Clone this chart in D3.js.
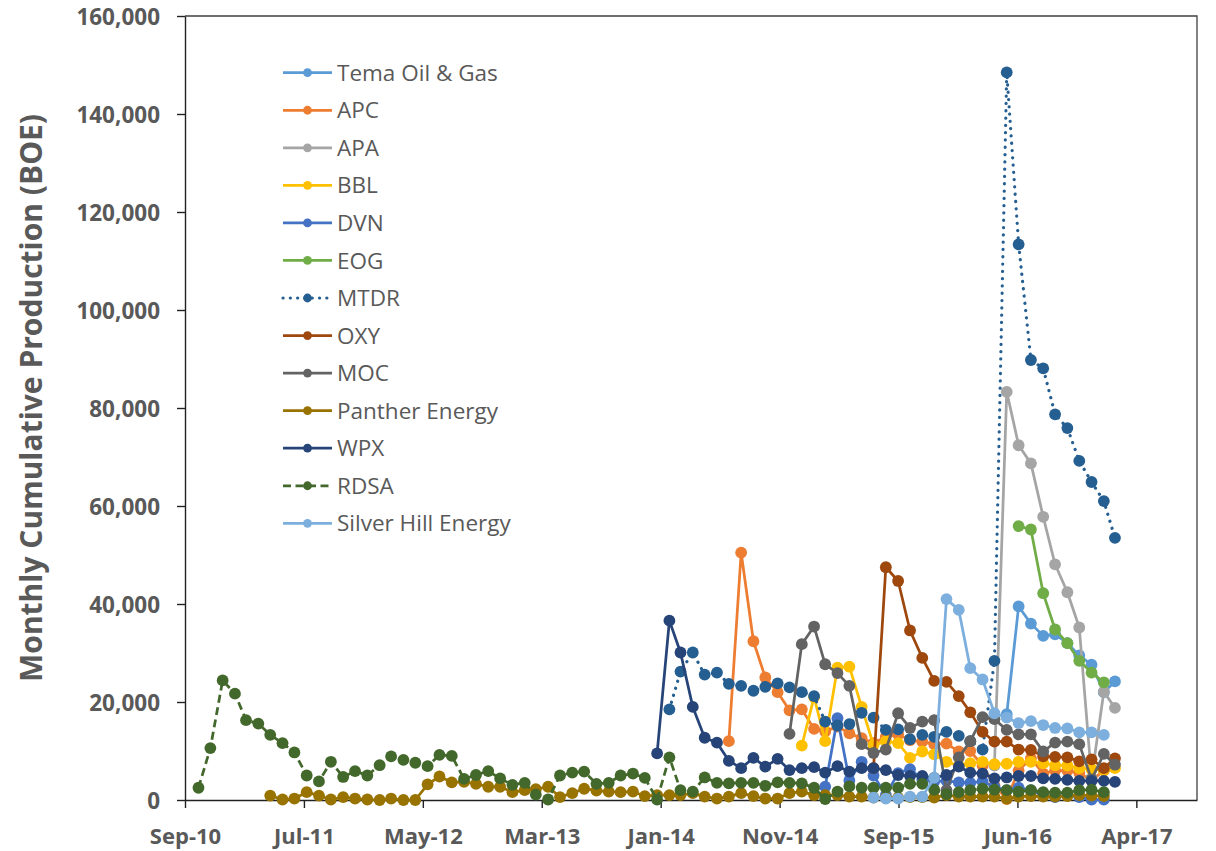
<!DOCTYPE html>
<html><head><meta charset="utf-8">
<script src="https://cdn.jsdelivr.net/npm/d3@7"></script>
<style>body{margin:0;background:#fff} svg{display:block}</style>
</head><body><svg id="chart" width="1216" height="851"></svg>
<script>
// ---------- DATA ----------
const seriesNames = ["Tema Oil & Gas","APC","APA","BBL","DVN","EOG","MTDR","OXY","MOC","Panther Energy","WPX","RDSA","Silver Hill Energy"];
const seriesColors = ["#5B9BD5","#ED7D31","#A5A5A5","#FFC000","#4472C4","#70AD47","#255E91","#9E480E","#636363","#997300","#264478","#43682B","#7CAFDD"];
const seriesStyles = ["solid","solid","solid","solid","solid","solid","dot","solid","solid","solid","solid","dash","solid"];
const startMonths = ["2016-06","2014-07","2016-05","2015-01","2015-03","2016-07","2014-02","2015-07","2014-12","2011-05","2014-01","2010-11","2015-07"];

const temaOilGas = [17500,39500,36000,33500,33800,32000,29500,27600,22000,24200];
const apc = [12000,50500,32400,25000,22000,18300,18500,14500,14000,15000,13600,12600,11600,12900,13400,12200,11900,11400,11500,9900,10000,7000,3000,200,6000,8500,5400,6000,6000,5500,4000,6000];
const apa = [7000,83300,72400,68700,57800,48100,42400,35200,4500,22100,18800];
const bbl = [11100,21000,12000,27000,27200,19000,11200,12000,11600,8600,9900,9300,7800,7000,7500,7800,7300,7400,7800,7800,7500,7100,7000,6500,6300,6100,6500];
const dvn = [2700,16700,4000,7800,5000,1000,5500,6300,4200,3800,3900,3600,3500,3800,2700,2000,2500,2000,1000,600,1000,600,100,100];
const eog = [55900,55200,42200,34800,32000,28400,26000,24000];
const mtdr = [18500,26200,30100,25600,26000,23700,23300,22300,23100,23800,23000,22000,21200,16000,15200,15500,17800,16800,14300,14400,12400,13300,12900,13900,13100,12000,10300,28400,148500,113400,89800,88100,78700,75900,69200,64900,61000,53500];
const oxy = [6500,47500,44700,34600,29000,24300,24100,21200,17900,13900,11900,11900,10300,10200,8900,8800,8700,7900,8300,6500,8500];
const moc = [13500,31800,35400,27700,25900,23300,11400,9600,10300,17700,14700,16000,16300,2000,8700,12000,16900,16500,14300,13400,13400,9900,11700,11900,11400,4200,9400,7200];
const pantherEnergy = [900,100,300,1600,900,100,600,300,100,0,300,0,0,3200,4800,3600,3700,3300,2700,2700,1600,2000,2200,2700,600,1400,2300,1900,1700,1600,1700,800,1000,1000,1000,1400,700,300,700,1400,800,300,300,1400,1700,1000,1000,1000,700,700,500,500,500,600,600,500,1000,700,700,700,700,300,700,800,700,700,800,1000,900,800];
const wpx = [9500,36600,30100,19000,12700,11700,8000,6500,8600,6800,8400,6100,6500,6700,5600,6900,5800,6500,6500,6100,5100,4900,4900,4500,5100,6800,5600,5400,4400,4600,4900,4900,4400,4300,4100,3900,3900,3900,3700];
const rdsa = [2500,10600,24400,21700,16300,15600,13300,11600,9700,5000,3800,7800,4700,5900,5000,7100,8900,8200,7600,6900,9200,9000,4300,5100,5900,4400,3100,3500,1100,100,5000,5600,5800,3300,3500,5000,5400,4500,100,8700,2000,1700,4600,3500,3400,3500,3500,2900,3600,3500,3400,2500,200,1700,2800,2500,2500,2500,2500,3300,3300,2100,1200,1600,2000,2300,2100,2000,1700,2000,1600,1500,1500,2000,2100,1600];
const silverHillEnergy = [500,300,300,700,700,4500,41000,38800,26900,24600,17700,16800,15700,16100,15300,14700,14600,13800,13800,13300];

const seriesValues = [temaOilGas,apc,apa,bbl,dvn,eog,mtdr,oxy,moc,pantherEnergy,wpx,rdsa,silverHillEnergy];

const yTickValues = [0,20000,40000,60000,80000,100000,120000,140000,160000];
const xAxisStart = "2010-09-28";
const xAxisSpanDays = 2553;
const xTickStepDays = 300;
const xTickCount = 9;
const yAxisTitle = "Monthly Cumulative Production (BOE)";

// ---------- LAYOUT ----------
const plot = {left:185, right:1197, top:16, bottom:800};
const svg = d3.select("#chart");
const font = "'Open Sans', 'Noto Sans', sans-serif";
const textColor = "#595959";

const parseDay = d3.utcParse("%Y-%m-%d");
const parseMonth = d3.utcParse("%Y-%m");
const axisStart = parseDay(xAxisStart);
const x = d3.scaleUtc().domain([axisStart, d3.utcDay.offset(axisStart, xAxisSpanDays)]).range([plot.left, plot.right]);
const y = d3.scaleLinear().domain([0,160000]).range([plot.bottom, plot.top]);

const xTicks = d3.range(xTickCount).map(k => d3.utcDay.offset(axisStart, k*xTickStepDays));

// plot border (top & right)
svg.append("path")
  .attr("d", `M${plot.left},${plot.top}H${plot.right}V${plot.bottom}`)
  .attr("fill","none").attr("stroke","#404040").attr("stroke-width",1.3);

// x axis
const gx = svg.append("g").attr("transform",`translate(0,${plot.bottom})`)
  .call(d3.axisBottom(x).tickValues(xTicks).tickFormat(d3.utcFormat("%b-%y")).tickSize(8).tickSizeOuter(0));
gx.select(".domain").attr("stroke","#222").attr("stroke-width",1.4);
gx.selectAll(".tick line").attr("stroke","#222").attr("stroke-width",1.4);
gx.selectAll(".tick text").attr("y",44).attr("dy",null)
  .style("font-family",font).style("font-size","22px").style("font-weight","bold").attr("fill",textColor);

// y axis
const gy = svg.append("g").attr("transform",`translate(${plot.left},0)`)
  .call(d3.axisLeft(y).tickValues(yTickValues).tickFormat(d3.format(",")).tickSize(8).tickSizeOuter(0).tickPadding(17));
gy.select(".domain").attr("stroke","#222").attr("stroke-width",1.4);
gy.selectAll(".tick line").attr("stroke","#222").attr("stroke-width",1.4);
gy.selectAll(".tick text").attr("dy","0.36em")
  .style("font-family",font).style("font-size","22.5px").style("font-weight","bold").attr("fill",textColor);

// y title
svg.append("text").attr("transform","translate(41.5,398) rotate(-90)")
  .attr("text-anchor","middle").style("font-family",font).style("font-size","30px").style("font-weight","bold")
  .attr("fill",textColor).text(yAxisTitle);

function applyStyle(sel, style){
  if(style==="dot"){ sel.attr("stroke-width",3.2).attr("stroke-dasharray","0.1 7.2").attr("stroke-linecap","round"); }
  else if(style==="dash"){ sel.attr("stroke-width",2.75).attr("stroke-dasharray","8 4.5"); }
  else { sel.attr("stroke-width",2.75); }
}

const line = d3.line().x(d=>x(d.date)).y(d=>y(d.value));

seriesNames.forEach((name,i)=>{
  const start = parseMonth(startMonths[i]);
  const data = seriesValues[i].map((v,k)=>({date:d3.utcMonth.offset(start,k), value:v}));
  const g = svg.append("g");
  const p = g.append("path").datum(data).attr("d",line).attr("fill","none").attr("stroke",seriesColors[i])
    .attr("stroke-linejoin","round");
  applyStyle(p, seriesStyles[i]);
  g.selectAll("circle").data(data).join("circle")
    .attr("cx",d=>x(d.date)).attr("cy",d=>y(d.value)).attr("r",5.9).attr("fill",seriesColors[i]);
});

// legend
const legend = svg.append("g");
seriesNames.forEach((name,i)=>{
  const cy = 72.7 + i*37.55;
  const l = legend.append("line").attr("x1",283).attr("x2",332).attr("y1",cy).attr("y2",cy).attr("stroke",seriesColors[i]);
  applyStyle(l, seriesStyles[i]);
  legend.append("circle").attr("cx",307.5).attr("cy",cy).attr("r",4.4).attr("fill",seriesColors[i]);
  legend.append("text").attr("x",337).attr("y",cy).attr("dy","0.36em")
    .style("font-family",font).style("font-size","22.5px").attr("fill",textColor).text(name);
});
</script></body></html>
